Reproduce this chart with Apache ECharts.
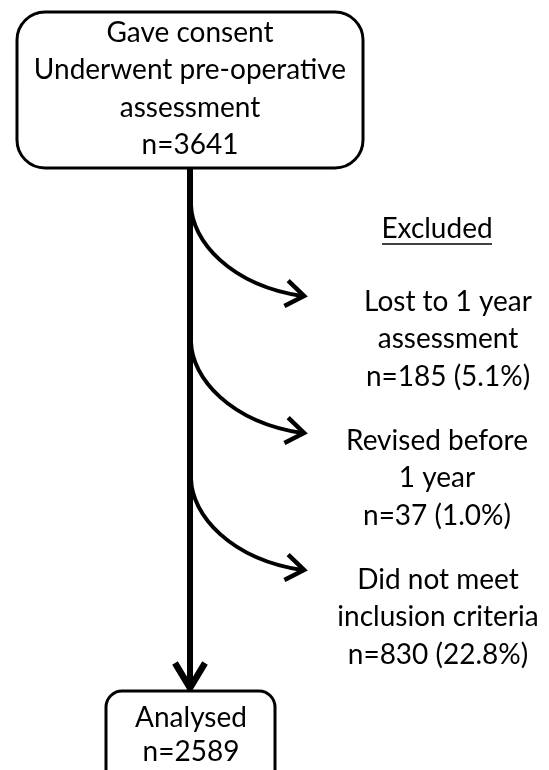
<!DOCTYPE html>
<html><head><meta charset="utf-8">
<script src="https://cdn.jsdelivr.net/npm/echarts@6/dist/echarts.min.js"></script>
<style>html,body{margin:0;padding:0;background:#fff}#c{width:549px;height:770px}</style>
</head><body><div id="c"></div>
<script>
// ---- data ----
const startLabel = ['Gave consent', 'Underwent pre-operative', 'assessment'];
const startN = [3641];
const exclusionHeader = ['Excluded'];
const exclusionLabels = [['Lost to 1 year', 'assessment'], ['Revised before', '1 year'], ['Did not meet', 'inclusion criteria']];
const exclusionN = [185, 37, 830];
const exclusionPct = ['5.1', '1.0', '22.8'];
const endLabel = ['Analysed'];
const endN = [2589];

// ---- layout (diagram units = pixels of a 549x770 canvas) ----
const FONT = 'Lato, "Open Sans", sans-serif';
const FS = 28, LH = 37.3;
const TRUNK_X = 190;
const TOP_BOX = {x: 17, y: 12, w: 346, h: 156, r: 28};
const END_BOX = {x: 106, y: 691, w: 169, h: 110, r: 16};
const EXC_START = 205, EXC_STEP = 137, EXC_END_X = 304, EXC_END_DY = 91;
const EXC_TEXT_Y = 302, EXC_TEXT_STEP = 139;
const EXC_TEXT_X = [448, 437, 438];

const chart = echarts.init(document.getElementById('c'));

function txt(api, x, y, s, extra) {
  const p = api.coord([x, y]);
  return {type: 'text', style: Object.assign({text: s, x: p[0], y: p[1], fill: '#000',
    fontSize: FS, fontFamily: FONT, textAlign: 'center', textVerticalAlign: 'middle'}, extra || {})};
}
function rectFrom(api, b) {
  const p = api.coord([b.x, b.y]), q = api.coord([b.x + b.w, b.y + b.h]);
  return {type: 'rect', shape: {x: p[0], y: p[1], width: q[0] - p[0], height: q[1] - p[1], r: b.r},
    style: {fill: '#fff', stroke: '#000', lineWidth: 3}};
}

const boxSeries = {
  type: 'custom', coordinateSystem: 'cartesian2d', silent: true, z: 2,
  data: [[0], [1]],
  renderItem: function (params, api) {
    const i = params.dataIndex;
    const children = [];
    if (i === 0) {
      children.push(rectFrom(api, TOP_BOX));
      const lines = startLabel.concat(['n=' + startN[0]]);
      lines.forEach((s, k) => children.push(txt(api, TRUNK_X, 33 + k * LH, s)));
    } else {
      children.push(rectFrom(api, END_BOX));
      const lines = endLabel.concat(['n=' + endN[0]]);
      lines.forEach((s, k) => children.push(txt(api, 191, 718 + k * 34, s)));
    }
    return {type: 'group', children: children};
  }
};

const trunkSeries = {
  type: 'custom', coordinateSystem: 'cartesian2d', silent: true, z: 1,
  data: [[0]],
  renderItem: function (params, api) {
    const a = api.coord([TRUNK_X, TOP_BOX.y + TOP_BOX.h]), b = api.coord([TRUNK_X, END_BOX.y - 3]);
    const l = api.coord([TRUNK_X - 15, END_BOX.y - 28]), r = api.coord([TRUNK_X + 15, END_BOX.y - 28]);
    return {type: 'group', children: [
      {type: 'line', shape: {x1: a[0], y1: a[1], x2: b[0], y2: b[1] - 2}, style: {stroke: '#000', lineWidth: 6}},
      {type: 'polyline', shape: {points: [l, b, r]}, style: {stroke: '#000', lineWidth: 6.5, fill: null, lineJoin: 'miter'}}
    ]};
  }
};

const exclusionSeries = {
  type: 'custom', coordinateSystem: 'cartesian2d', silent: true, z: 2,
  data: exclusionN.map((n, i) => [i, n]),
  renderItem: function (params, api) {
    const i = params.dataIndex;
    const y0 = EXC_START + i * EXC_STEP, y1 = y0 + EXC_END_DY;
    const s = api.coord([TRUNK_X + 1, y0]);
    const c1 = api.coord([TRUNK_X + 2, y0 + 36]);
    const c2 = api.coord([TRUNK_X + 40, y0 + 80]);
    const e = api.coord([EXC_END_X, y1]);
    const ang = Math.atan2(e[1] - c2[1], e[0] - c2[0]);
    const L = 22, spread = 0.62;
    const a1 = [e[0] - L * Math.cos(ang - spread), e[1] - L * Math.sin(ang - spread)];
    const a2 = [e[0] - L * Math.cos(ang + spread), e[1] - L * Math.sin(ang + spread)];
    const children = [
      {type: 'bezierCurve', shape: {x1: s[0], y1: s[1], cpx1: c1[0], cpy1: c1[1], cpx2: c2[0], cpy2: c2[1], x2: e[0] - 2, y2: e[1]},
        style: {stroke: '#000', lineWidth: 4, fill: null}},
      {type: 'polyline', shape: {points: [a1, e, a2]}, style: {stroke: '#000', lineWidth: 4.5, fill: null}}
    ];
    const lines = exclusionLabels[i].concat(['n=' + exclusionN[i] + ' (' + exclusionPct[i] + '%)']);
    const ty = EXC_TEXT_Y + i * EXC_TEXT_STEP;
    lines.forEach((t, k) => children.push(txt(api, EXC_TEXT_X[i], ty + k * LH, t)));
    return {type: 'group', children: children};
  }
};

const headerSeries = {
  type: 'custom', coordinateSystem: 'cartesian2d', silent: true, z: 2,
  data: [[0]],
  renderItem: function (params, api) {
    const t = txt(api, 437, 229, exclusionHeader[0]);
    const u1 = api.coord([382, 244]), u2 = api.coord([492, 244]);
    return {type: 'group', children: [t,
      {type: 'line', shape: {x1: u1[0], y1: u1[1], x2: u2[0], y2: u2[1]}, style: {stroke: '#000', lineWidth: 1.5}}]};
  }
};

chart.setOption({
  backgroundColor: '#fff',
  animation: false,
  grid: {left: 0, right: 0, top: 0, bottom: 0},
  xAxis: {type: 'value', min: 0, max: 549, show: false},
  yAxis: {type: 'value', min: 0, max: 770, inverse: true, show: false},
  series: [trunkSeries, boxSeries, exclusionSeries, headerSeries]
});
</script></body></html>
